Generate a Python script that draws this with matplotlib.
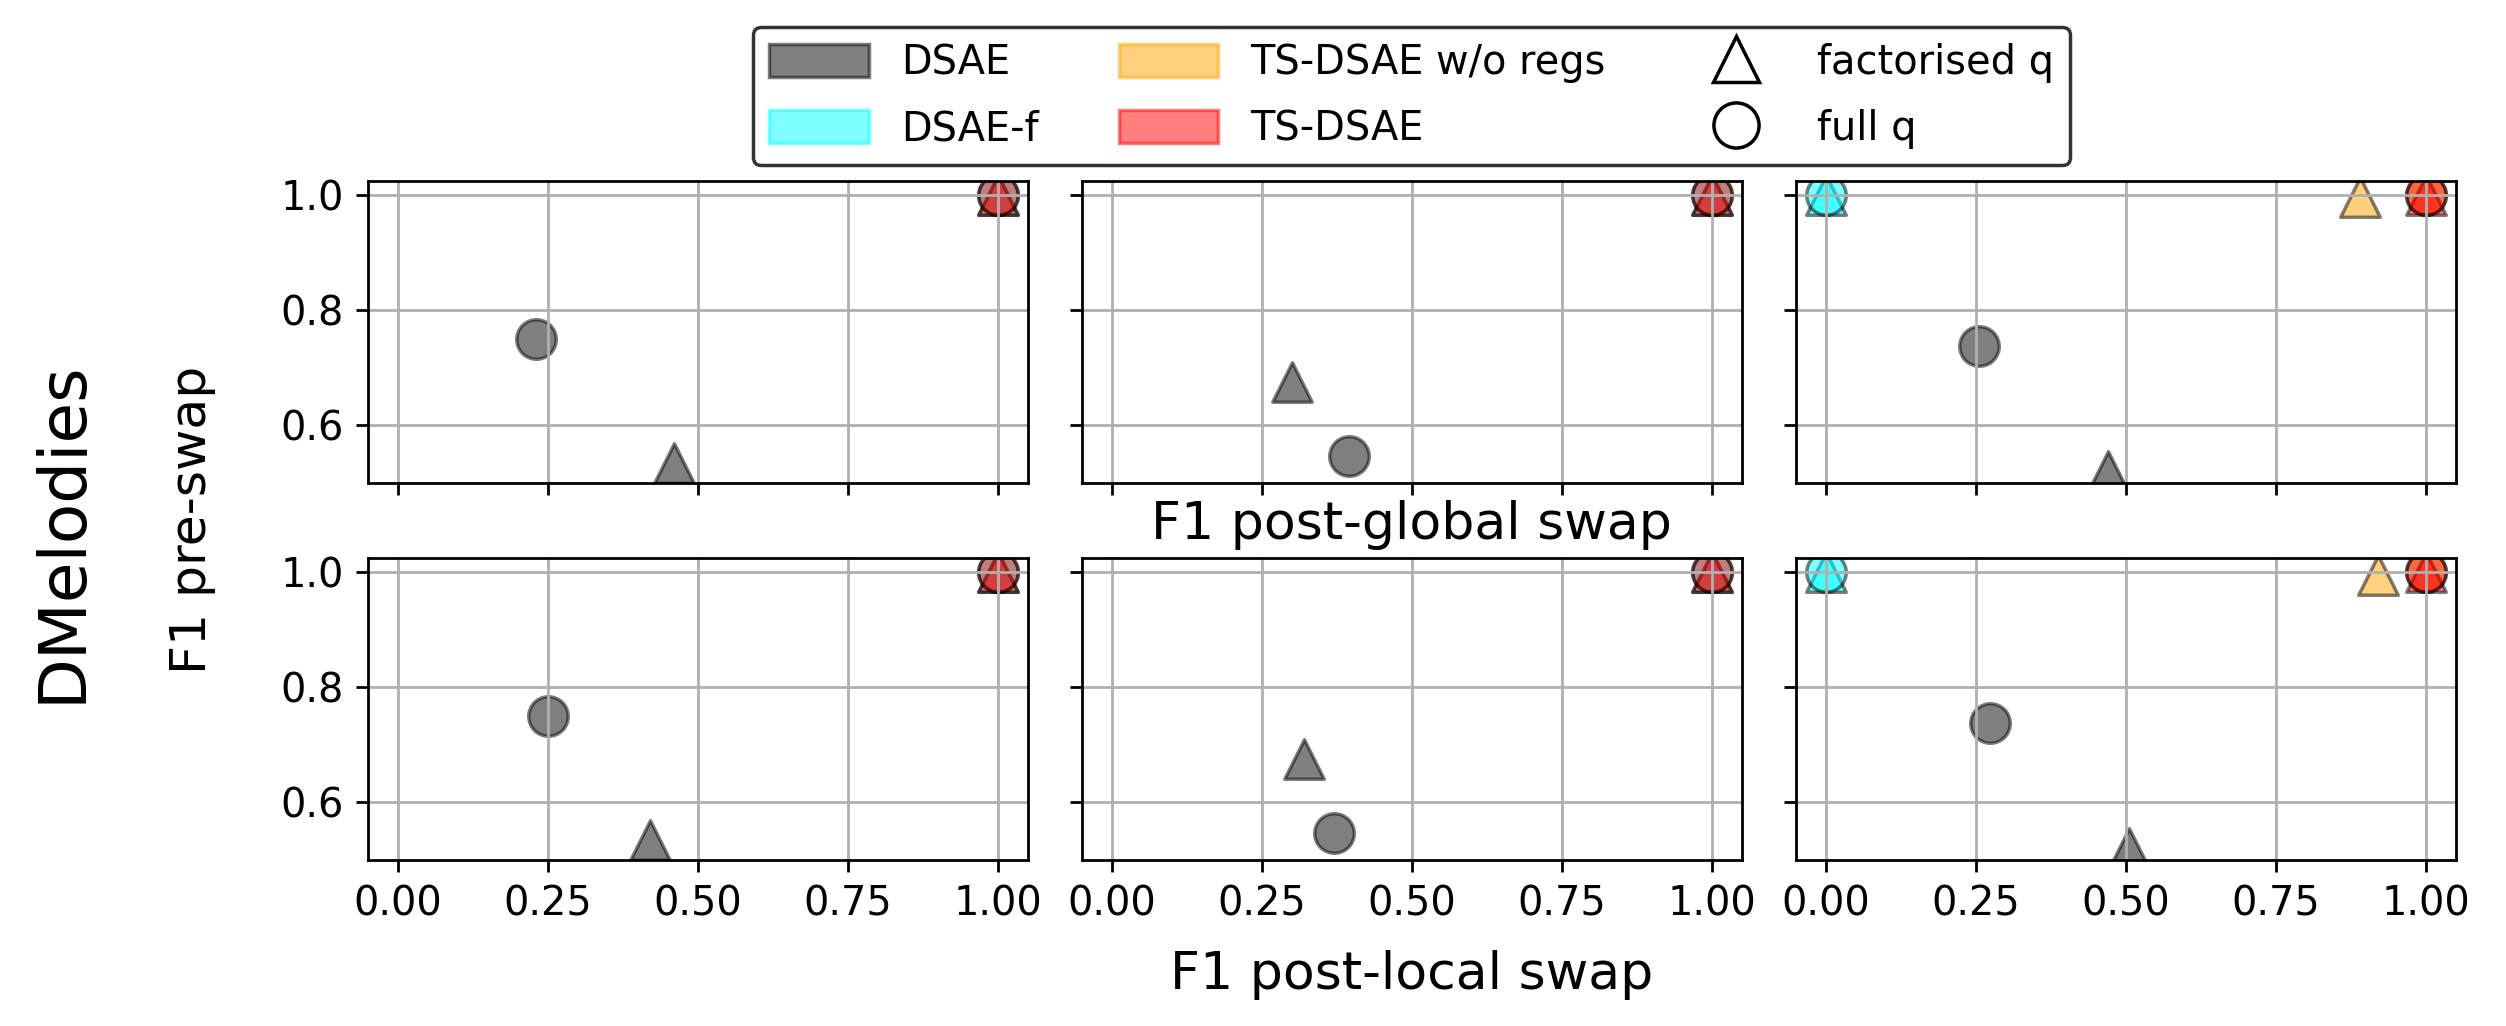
import numpy as np
import matplotlib
matplotlib.use("Agg")
import matplotlib.pyplot as plt
from matplotlib.patches import Patch
from matplotlib.lines import Line2D

nan = np.nan

# models, in drawing order
models = ["DSAE", "DSAE-f", "TS-DSAE w/o regs", "TS-DSAE"]
colours = ["black", "cyan", "orange", "red"]

# three columns per row; pre-swap F1 is shared by both rows
# factorised q (triangles)
fact_pre = {
    "DSAE":             [0.535, 0.675, 0.52],
    "DSAE-f":           [1.0, 1.0, 1.0],
    "TS-DSAE w/o regs": [nan, nan, 0.995],
    "TS-DSAE":          [1.0, 1.0, 1.0],
}
fact_global = {
    "DSAE":             [0.46, 0.30, 0.47],
    "DSAE-f":           [1.0, 1.0, 0.0],
    "TS-DSAE w/o regs": [nan, nan, 0.89],
    "TS-DSAE":          [1.0, 1.0, 1.0],
}
fact_local = {
    "DSAE":             [0.42, 0.32, 0.505],
    "DSAE-f":           [1.0, 1.0, 0.0],
    "TS-DSAE w/o regs": [nan, nan, 0.92],
    "TS-DSAE":          [1.0, 1.0, 1.0],
}
# full q (circles)
full_pre = {
    "DSAE":             [0.75, 0.547, 0.738],
    "DSAE-f":           [1.0, 1.0, 1.0],
    "TS-DSAE w/o regs": [nan, nan, 1.0],
    "TS-DSAE":          [1.0, 1.0, 1.0],
}
full_global = {
    "DSAE":             [0.23, 0.395, 0.255],
    "DSAE-f":           [1.0, 1.0, 0.0],
    "TS-DSAE w/o regs": [nan, nan, 1.0],
    "TS-DSAE":          [1.0, 1.0, 1.0],
}
full_local = {
    "DSAE":             [0.25, 0.37, 0.273],
    "DSAE-f":           [1.0, 1.0, 0.0],
    "TS-DSAE w/o regs": [nan, nan, 1.0],
    "TS-DSAE":          [1.0, 1.0, 1.0],
}

DPI = 250
fig, axes = plt.subplots(2, 3, sharex=True, sharey=True,
                         figsize=(2506 / DPI, 1026 / DPI), dpi=DPI)
fig.subplots_adjust(left=0.1468, right=0.980, top=0.8236, bottom=0.1618,
                    wspace=0.082, hspace=0.25)

rows = [(fact_global, full_global), (fact_local, full_local)]
for r, (fx, cx) in enumerate(rows):
    for c in range(3):
        ax = axes[r, c]
        ax.grid(True)
        ax.tick_params(labelsize=11.5)
        for m, col in zip(models, colours):
            ax.scatter(fx[m][c], fact_pre[m][c], marker="^", s=130,
                       color=col, edgecolors="k", alpha=0.5)
            ax.scatter(cx[m][c], full_pre[m][c], marker="o", s=130,
                       color=col, edgecolors="k", alpha=0.5)

axes[0, 0].set_xlim(-0.05, 1.05)
axes[0, 0].set_ylim(0.5, 1.0235)
axes[0, 0].set_xticks([0.0, 0.25, 0.5, 0.75, 1.0])
axes[0, 0].set_yticks([0.6, 0.8, 1.0])
axes[1, 0].xaxis.set_major_formatter(matplotlib.ticker.FormatStrFormatter("%.2f"))

axes[0, 1].set_xlabel("F1 post-global swap", fontsize=15, labelpad=1.5)
axes[1, 1].set_xlabel("F1 post-local swap", fontsize=15, labelpad=7.5)
fig.text(0.0766, 0.493, "F1 pre-swap", rotation=90, fontsize=14.5,
         ha="center", va="center")
fig.text(0.025, 0.482, "DMelodies", rotation=90, fontsize=19,
         ha="center", va="center")

handles = [Patch(facecolor=col, edgecolor=col, alpha=0.5, label=m)
           for m, col in zip(models, colours)]
handles += [
    Line2D([], [], marker="^", linestyle="None", markersize=13,
           markerfacecolor="w", markeredgecolor="k", label="factorised q"),
    Line2D([], [], marker="o", linestyle="None", markersize=13,
           markerfacecolor="w", markeredgecolor="k", label="full q"),
]
axes[0, 1].legend(handles=handles, loc="lower center", bbox_to_anchor=(0.5, 1.0),
                  borderaxespad=0.4, ncol=3, handlelength=2.5, handleheight=0.9,
                  columnspacing=2.0, labelspacing=0.65, edgecolor="k", fontsize=11.5)

fig.savefig("out.png", dpi=DPI)
